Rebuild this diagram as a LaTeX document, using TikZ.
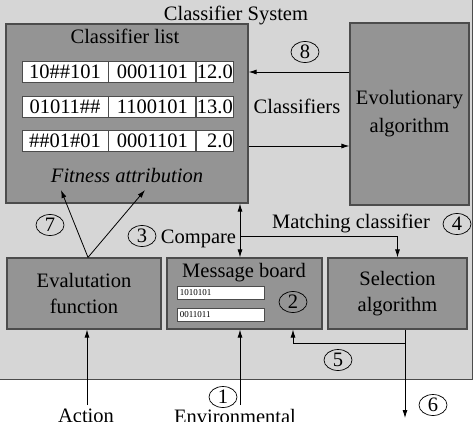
\documentclass[tikz,border=0pt]{standalone}
\usepackage{fontspec}
\setmainfont{Liberation Serif}
\usetikzlibrary{arrows.meta,shapes.geometric}
\definecolor{sysgray}{gray}{0.84}
\definecolor{boxgray}{gray}{0.58}
\definecolor{linegray}{gray}{0.30}
\begin{document}
\begin{tikzpicture}[x=1pt,y=-1pt,
    font=\fontsize{20.5}{26}\selectfont,
    >={Latex[length=8pt,width=5pt]},
    block/.style={draw=linegray, line width=1.2pt, fill=boxgray, inner sep=0pt, align=center},
    cell/.style={draw=linegray, line width=0.8pt, fill=white, minimum height=21pt, inner sep=0pt},
    num/.style={ellipse, draw, line width=0.7pt, minimum width=28pt, minimum height=21pt, inner sep=0pt},
    txt/.style={anchor=base, inner sep=0pt},
    link/.style={line width=0.8pt}]
      \useasboundingbox (0,0) rectangle (474,421);
      \fill[white] (0,0) rectangle (474,421);
      \draw[linegray, fill=sysgray, line width=1pt] (-2,-2) rectangle (472,379);
      \node[txt] (sys) at (236,20) {Classifier System};
      % classifier list
      \node[block, minimum width=242pt, minimum height=179pt] (list) at (127,113.5) {};
      \node[txt] (listtitle) at (125,43) {Classifier list};
      \foreach \y/\cond/\act/\fit [count=\i] in {71.5/10\#\#101/0001101/12.0, 106.5/01011\#\#/1100101/13.0, 140.5/\#\#01\#01/0001101/2.0}{
        \node[cell, minimum width=86pt] (a\i) at (65,\y) {\cond};
        \node[cell, minimum width=87pt, anchor=west] (b\i) at (a\i.east) {\act};
        \node[cell, minimum width=37pt, anchor=west] (c\i) at (b\i.east) {};
        \node[anchor=east, inner sep=1pt] at (c\i.east) {\fit};
      }
      \node[txt, font=\fontsize{20.5}{26}\selectfont\itshape] (fitness) at (127,182) {Fitness attribution};
      % other blocks
      \node[block, minimum width=119pt, minimum height=182pt, font=\fontsize{20.5}{28}\selectfont] (evo) at (409.5,114) {Evolutionary\\algorithm};
      \node[block, minimum width=154pt, minimum height=71pt] (eval) at (84,293.5) {Evalutation\\function};
      \node[block, minimum width=155pt, minimum height=71pt] (board) at (244.5,293.5) {};
      \node[block, minimum width=139pt, minimum height=71pt] (select) at (397.5,293.5) {Selection\\algorithm};
      \node[txt] (boardtitle) at (244,277) {Message board};
      \node[cell, minimum width=87pt, minimum height=13pt] (m1) at (220.5,292.5) {};
      \node[cell, minimum width=87pt, minimum height=13pt] (m2) at (220.5,315) {};
      \node[anchor=west, font=\fontsize{9}{10}\selectfont, inner sep=3pt] at (m1.west) {1010101};
      \node[anchor=west, font=\fontsize{9}{10}\selectfont, inner sep=3pt] at (m2.west) {0011011};
      % labels
      \node[txt] (classifiers) at (297,113) {Classifiers};
      \node[txt] (compare) at (198.5,243) {Compare};
      \node[txt] (matching) at (351,228) {Matching classifier};
      \node[txt] (action) at (86,422) {Action};
      \node[txt] (environ) at (235,423) {Environmental};
      \node[num] (n1) at (223,397) {1};
      \node[num] (n2) at (293,302) {2};
      \node[num] (n3) at (142,236) {3};
      \node[num] (n4) at (457,224) {4};
      \node[num] (n5) at (338,360) {5};
      \node[num] (n6) at (433,405) {6};
      \node[num] (n7) at (50,225) {7};
      \node[num] (n8) at (305,52) {8};
      % connectors
      \coordinate (fa1) at (61,190);
      \coordinate (fa2) at (145,190);
      \coordinate (cmp) at (240,236);
      \coordinate (fb) at (405,343);
      \coordinate (out) at (405,418);
      \coordinate (env) at (240,405);
      \coordinate (act) at (87,405);
      \draw[link, ->] (evo.west |- 0,72) -- (list.east |- 0,72);
      \draw[link, ->] (list.east |- 0,146) -- (evo.west |- 0,146);
      \draw[link, ->] ([xshift=4pt]eval.north) -- (fa1);
      \draw[link, ->] ([xshift=4pt]eval.north) -- (fa2);
      \draw[link, <->] (240,0 |- list.south) -- (240,0 |- board.north);
      \draw[link, ->] (cmp) -| (select.north);
      \draw[link, ->] (out |- select.south) -- (out);
      \draw[link, ->] (fb) -| (293,0 |- board.south);
      \draw[link, ->] (env) -- (env |- board.south);
      \draw[link, ->] (act) -- (act |- eval.south);
    \end{tikzpicture}
\end{document}
